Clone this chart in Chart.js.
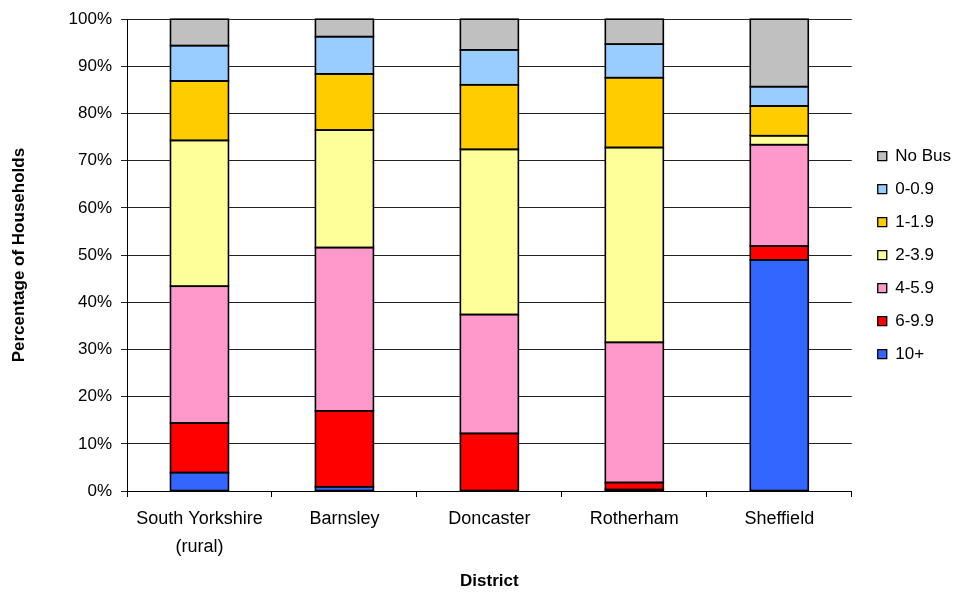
<!DOCTYPE html>
<html>
<head>
<meta charset="utf-8">
<script src="https://cdn.jsdelivr.net/npm/chart.js@4"></script>
<style>
  html, body { margin: 0; padding: 0; background: #fff; }
  #wrap { width: 960px; height: 592px; }
</style>
</head>
<body>
<div id="wrap"><canvas id="c" width="960" height="592"></canvas></div>
<script>
const categories = [["South Yorkshire", "(rural)"], "Barnsley", "Doncaster", "Rotherham", "Sheffield"];
const seriesNames = ["10+", "6-9.9", "4-5.9", "2-3.9", "1-1.9", "0-0.9", "No Bus"];
const v10plus  = [3.9, 0.9, 0.0, 0.3, 49.0];
const v6to9    = [10.5, 16.1, 12.2, 1.5, 2.9];
const v4to5    = [29.0, 34.6, 25.2, 29.7, 21.5];
const v2to3    = [30.9, 24.9, 35.0, 41.3, 1.9];
const v1to1    = [12.6, 11.9, 13.7, 14.8, 6.3];
const v0to0    = [7.5, 7.9, 7.4, 7.1, 4.1];
const vNoBus   = [5.6, 3.7, 6.5, 5.3, 14.3];
const yTicks = [0, 10, 20, 30, 40, 50, 60, 70, 80, 90, 100];

const seriesValues = [v10plus, v6to9, v4to5, v2to3, v1to1, v0to0, vNoBus];
const colors = ["#3366FF", "#FF0000", "#FF99CC", "#FFFF99", "#FFCC00", "#99CCFF", "#C0C0C0"];

const datasets = seriesNames.map((n, i) => ({
  label: n,
  data: seriesValues[i],
  backgroundColor: colors[i],
  borderColor: "#000",
  borderWidth: 0,
  borderSkipped: false,
  inflateAmount: 0,
  categoryPercentage: 1.0,
  barPercentage: 0.4
}));

const FONT = "'Liberation Sans', Arial, sans-serif";

// Outline every bar segment using the geometry computed by Chart.js
const barOutline = {
  id: "barOutline",
  afterDatasetsDraw(chart) {
    const ctx = chart.ctx;
    ctx.save();
    ctx.strokeStyle = "#000";
    ctx.lineWidth = 1.6;
    chart.data.datasets.forEach((ds, di) => {
      const meta = chart.getDatasetMeta(di);
      meta.data.forEach((el, i) => {
        if (!ds.data[i]) return;
        const p = el.getProps(["x", "y", "base", "width"], true);
        const left = p.x - p.width / 2;
        const top = Math.min(p.y, p.base);
        const h = Math.abs(p.base - p.y);
        ctx.strokeRect(left, top, p.width, h);
      });
    });
    ctx.restore();
  }
};

// Leave a wider gap between plot area and legend
const legendShift = {
  id: "legendShift",
  afterLayout(chart) {
    if (chart.legend) { chart.legend.left += 10; chart.legend.right += 10; }
  }
};

new Chart(document.getElementById("c"), {
  type: "bar",
  data: { labels: categories, datasets },
  plugins: [barOutline, legendShift],
  options: {
    responsive: false,
    animation: false,
    devicePixelRatio: 1,
    layout: { padding: { top: 12, right: 9, left: 5, bottom: 0 } },
    plugins: {
      tooltip: { enabled: false },
      legend: {
        position: "right",
        align: "center",
        fullSize: false,
        reverse: true,
        labels: {
          boxWidth: 9,
          boxHeight: 9,
          padding: 16,
          color: "#000",
          font: { family: FONT, size: 17 },
          generateLabels: (chart) => {
            const items = Chart.defaults.plugins.legend.labels.generateLabels(chart);
            items.forEach(it => { it.lineWidth = 1.3; it.strokeStyle = "#000"; });
            return items;
          }
        }
      }
    },
    scales: {
      x: {
        stacked: true,
        grid: { offset: true, drawOnChartArea: false, drawTicks: true, tickLength: 6, color: "#000" },
        border: { color: "#000", width: 1 },
        ticks: { color: "#000", font: { family: FONT, size: 18, lineHeight: 1.55 }, padding: 8, maxRotation: 0, autoSkip: false },
        title: { display: true, text: "District", color: "#000", font: { family: FONT, size: 17, weight: "bold" }, padding: { top: 8, bottom: 0 } },
        afterFit: (s) => { s.height = 101; }
      },
      y: {
        stacked: true,
        min: 0,
        max: 100,
        afterBuildTicks: (s) => { s.ticks = yTicks.map(v => ({ value: v })); },
        grid: { color: "#222", lineWidth: 1, tickLength: 6, drawTicks: true },
        border: { color: "#000", width: 1 },
        ticks: { color: "#000", font: { family: FONT, size: 17 }, padding: 9, callback: (v) => v + "%" },
        title: { display: true, text: "Percentage of Households", color: "#000", font: { family: FONT, size: 17, weight: "bold" }, padding: { top: 4, bottom: 0 } },
        afterFit: (s) => { s.width = 122; }
      }
    }
  }
});
</script>
</body>
</html>
